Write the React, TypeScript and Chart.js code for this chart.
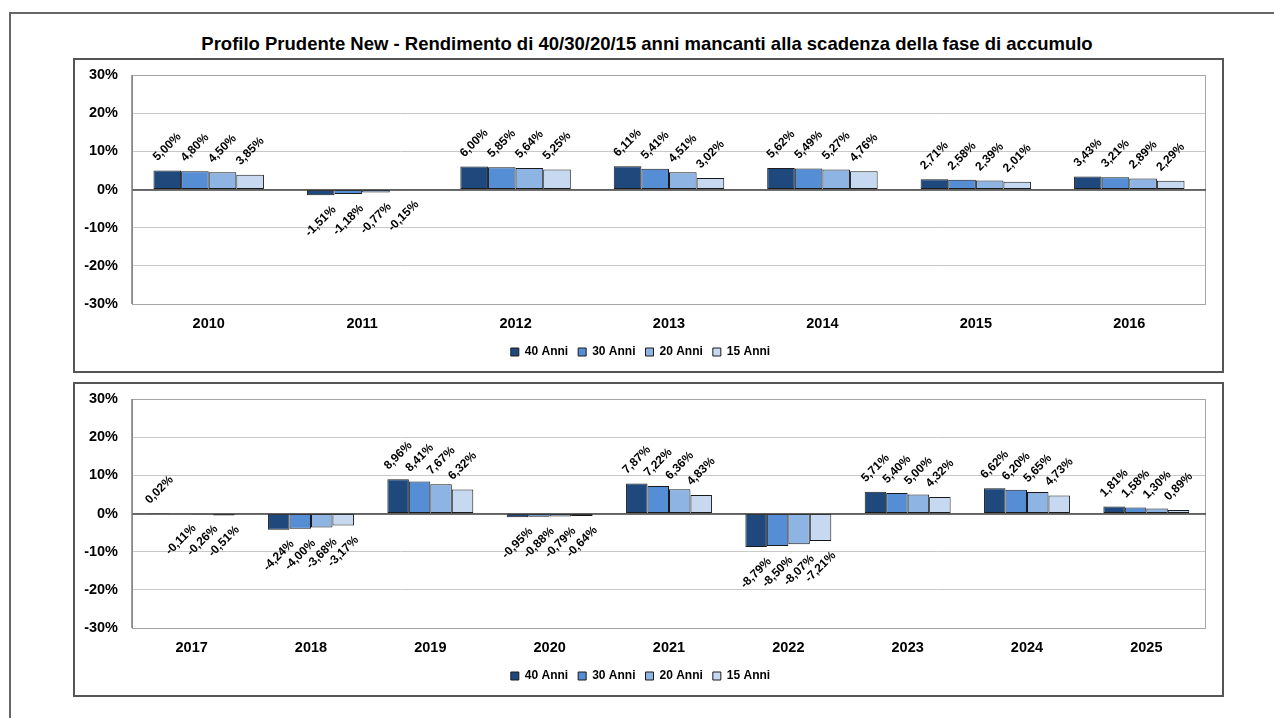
import React, { useEffect, useRef } from "react";
import { Chart, registerables } from "chart.js";

Chart.register(...registerables);

const TITLE = "Profilo Prudente New - Rendimento di 40/30/20/15 anni mancanti alla scadenza della fase di accumulo";
const SERIES_NAMES = ["40 Anni", "30 Anni", "20 Anni", "15 Anni"];
const SERIES_COLORS = ["#1F497D", "#558ED5", "#8EB4E3", "#C6D9F1"];

const YEARS_TOP = ["2010", "2011", "2012", "2013", "2014", "2015", "2016"];
const A40_TOP = [5.0, -1.51, 6.0, 6.11, 5.62, 2.71, 3.43];
const A30_TOP = [4.8, -1.18, 5.85, 5.41, 5.49, 2.58, 3.21];
const A20_TOP = [4.5, -0.77, 5.64, 4.51, 5.27, 2.39, 2.89];
const A15_TOP = [3.85, -0.15, 5.25, 3.02, 4.76, 2.01, 2.29];

const YEARS_BOTTOM = ["2017", "2018", "2019", "2020", "2021", "2022", "2023", "2024", "2025"];
const A40_BOTTOM = [0.02, -4.24, 8.96, -0.95, 7.87, -8.79, 5.71, 6.62, 1.81];
const A30_BOTTOM = [-0.11, -4.0, 8.41, -0.88, 7.22, -8.5, 5.4, 6.2, 1.58];
const A20_BOTTOM = [-0.26, -3.68, 7.67, -0.79, 6.36, -8.07, 5.0, 5.65, 1.3];
const A15_BOTTOM = [-0.51, -3.17, 6.32, -0.64, 4.83, -7.21, 4.32, 4.73, 0.89];

const Y_MIN = -30;
const Y_MAX = 30;
const Y_STEP = 10;

const FONT = "Arial, 'Liberation Sans', sans-serif";

const fmt = (v: number) => v.toFixed(2).replace(".", ",") + "%";

const labelPlugin = {
  id: "rotLabels",
  afterDatasetsDraw(chart: any) {
    const ctx = chart.ctx;
    ctx.save();
    ctx.font = `bold 12px ${FONT}`;
    ctx.fillStyle = "#000";
    ctx.textAlign = "center";
    ctx.textBaseline = "middle";
    chart.data.datasets.forEach((ds: any, di: number) => {
      const meta = chart.getDatasetMeta(di);
      meta.data.forEach((el: any, i: number) => {
        const v = ds.data[i];
        const t = fmt(v);
        const w = ctx.measureText(t).width;
        const half = ((w + 10) / 2) * 0.7071;
        const y = v >= 0 ? el.y - (8 + half) : el.y + (9 + half);
        ctx.save();
        ctx.translate(el.x, y);
        ctx.rotate(-Math.PI / 4);
        ctx.fillText(t, 0, 0);
        ctx.restore();
      });
    });
    ctx.restore();
  },
};

const framePlugin = {
  id: "plotFrame",
  beforeDatasetsDraw(chart: any) {
    const { ctx, chartArea } = chart;
    ctx.save();
    ctx.strokeStyle = "#A6A6A6";
    ctx.lineWidth = 1;
    ctx.strokeRect(chartArea.left + 0.5, chartArea.top + 0.5, chartArea.right - chartArea.left - 1, chartArea.bottom - chartArea.top);
    ctx.restore();
  },
  afterDatasetsDraw(chart: any) {
    const { ctx, chartArea, scales } = chart;
    const y0 = Math.round(scales.y.getPixelForValue(0));
    ctx.save();
    ctx.strokeStyle = "#3F3F3F";
    ctx.lineWidth = 1.5;
    ctx.beginPath();
    ctx.moveTo(chartArea.left, y0);
    ctx.lineTo(chartArea.right, y0);
    ctx.stroke();
    ctx.strokeStyle = "#7F7F7F";
    ctx.lineWidth = 1.5;
    ctx.beginPath();
    ctx.moveTo(chartArea.left, chartArea.top);
    ctx.lineTo(chartArea.left, chartArea.bottom);
    ctx.stroke();
    ctx.restore();
  },
};

const CW = 1147;
const CH = 311;

function Panel({ top, labels, series }: { top: number; labels: string[]; series: number[][] }) {
  const ref = useRef<HTMLCanvasElement>(null);
  useEffect(() => {
    if (!ref.current) return;
    const chart = new Chart(ref.current, {
      type: "bar",
      data: {
        labels,
        datasets: series.map((d, i) => ({
          label: SERIES_NAMES[i],
          data: d,
          backgroundColor: SERIES_COLORS[i],
          borderColor: "#1A1A1A",
          borderWidth: 1,
          borderSkipped: false,
          categoryPercentage: 0.72,
          barPercentage: 1.0,
        })),
      },
      options: {
        animation: false,
        responsive: false,
        devicePixelRatio: 1,
        layout: { padding: { left: 0, right: 16, top: 15, bottom: 3 } },
        plugins: {
          title: { display: false },
          tooltip: { enabled: false },
          legend: {
            display: true,
            position: "bottom",
            labels: {
              boxWidth: 8,
              boxHeight: 8,
              padding: 10,
              color: "#000",
              font: { family: FONT, size: 12, weight: "bold" },
            },
          },
        },
        scales: {
          x: {
            grid: { display: false, drawTicks: false },
            border: { display: false },
            ticks: { color: "#000", padding: 11, font: { family: FONT, size: 14.5, weight: "bold" } },
            afterFit: (s: any) => {
              s.height = 32;
            },
          },
          y: {
            min: Y_MIN,
            max: Y_MAX,
            grid: { color: "#C8C8C8", lineWidth: 1, drawTicks: false },
            border: { display: false },
            ticks: {
              stepSize: Y_STEP,
              color: "#000",
              padding: 14,
              font: { family: FONT, size: 14.5, weight: "bold" },
              callback: (v: any) => v + "%",
            },
            afterFit: (s: any) => {
              s.width = 57;
              s.paddingTop = 0;
              s.paddingBottom = 0;
            },
          },
        },
      } as any,
      plugins: [framePlugin, labelPlugin],
    });
    return () => chart.destroy();
  }, []);
  return (
    <div
      style={{
        position: "absolute",
        left: 73,
        top,
        width: CW + 4,
        height: CH + 4,
        boxSizing: "border-box",
        border: "2px solid #555",
        background: "#fff",
      }}
    >
      <canvas ref={ref} width={CW} height={CH} style={{ width: CW, height: CH, display: "block" }} />
    </div>
  );
}

export default function App() {
  useEffect(() => {
    document.body.style.overflow = "hidden";
  }, []);
  return (
    <div style={{ position: "absolute", left: 0, top: 0, width: 1274, height: 718, background: "#fff", overflow: "hidden" }}>
      <div
        style={{
          position: "absolute",
          left: 9,
          top: 12,
          width: 1265,
          height: 706,
          boxSizing: "border-box",
          borderLeft: "2px solid #666",
          borderTop: "2px solid #666",
        }}
      />
      <div
        style={{
          position: "absolute",
          left: 0,
          width: 1294,
          top: 33,
          textAlign: "center",
          fontFamily: FONT,
          fontWeight: "bold",
          fontSize: 18.5,
          color: "#000",
          whiteSpace: "nowrap",
          lineHeight: "22px",
        }}
      >
        {TITLE}
      </div>
      <Panel top={58} labels={YEARS_TOP} series={[A40_TOP, A30_TOP, A20_TOP, A15_TOP]} />
      <Panel top={382} labels={YEARS_BOTTOM} series={[A40_BOTTOM, A30_BOTTOM, A20_BOTTOM, A15_BOTTOM]} />
    </div>
  );
}
